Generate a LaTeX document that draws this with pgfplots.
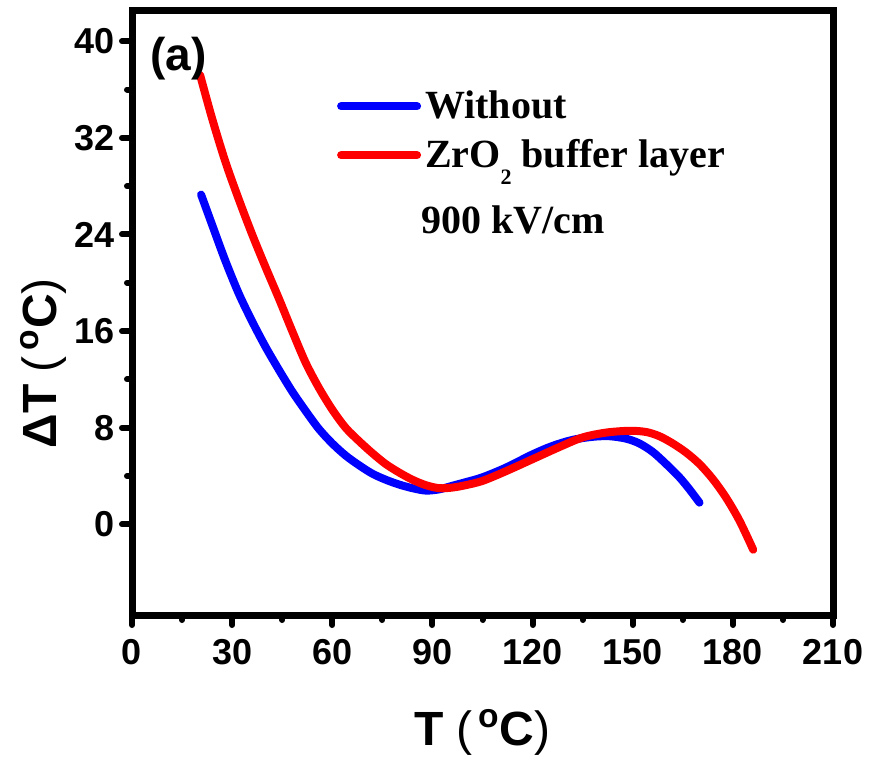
\documentclass[border=0pt]{standalone}
\usepackage{fontspec}
\setmainfont{Liberation Serif}
\setsansfont{Liberation Sans}
\usepackage{pgfplots}
\pgfplotsset{compat=1.18}
\begin{document}
\begin{tikzpicture}
\path[use as bounding box] (-66pt,-74.5pt) rectangle (369pt,307.5pt);
\begin{axis}[
  at={(0,0)}, anchor=south west,
  scale only axis, width=350.5pt, height=302pt,
  xmin=0, xmax=210, ymin=-7.5, ymax=42.5,
  xtick={0,30,...,210}, ytick={0,8,...,40},
  minor x tick num=1, minor y tick num=1,
  xtick pos=bottom, ytick pos=left,
  tick align=outside,
  axis line style={line width=3.5pt},
  major tick style={line width=3pt, line cap=round, black},
  minor tick style={line width=3pt, line cap=round, black},
  major tick length=5pt, minor tick length=2.5pt,
  tick label style={font=\sffamily\bfseries\fontsize{18}{18}\selectfont},
  xticklabel style={yshift=-3.5pt},
  /pgf/number format/assume math mode=true,
  xlabel={T\hspace{6pt}{\mdseries(}\hspace{3pt}\textsuperscript{o}C{\mdseries)}},
  ylabel={ΔT\hspace{6pt}{\mdseries(}\hspace{3pt}\textsuperscript{o}C{\mdseries)}},
  every axis x label/.style={at={(axis description cs:0.5,-0.194)}, anchor=center,
    font=\sffamily\bfseries\fontsize{24}{24}\selectfont},
  every axis y label/.style={at={(axis description cs:-0.127,0.417)}, anchor=center, rotate=90,
    font=\sffamily\bfseries\fontsize{24}{24}\selectfont},
  legend style={at={(axis description cs:0.292,0.875)}, anchor=north west, draw=none, fill=none,
    font=\rmfamily\bfseries\fontsize{20}{24}\selectfont, row sep=5pt, inner sep=0pt,
    /tikz/every even column/.append style={column sep=9pt}},
  legend cell align=left,
  legend image code/.code={\draw[#1, line width=4pt, line cap=round] (1pt,0pt) -- (39pt,0pt);},
]
\addplot[blue, line width=4pt, line cap=round, line join=round, smooth] coordinates {
(20.7,27.3) (24,24.8) (28,21.8) (32,19.1) (36,16.8) (40,14.7) (44,12.8) (48,11.0)
(52,9.4) (56,7.9) (60,6.7) (64,5.7) (68,4.9) (72,4.2) (76,3.7) (80,3.3) (84,3.0)
(88,2.8) (92,2.9) (96,3.2) (100,3.5) (105,3.9) (112,4.7) (120,5.8) (126,6.5) (132,7.0)
(138,7.25) (143,7.3) (148,7.1) (152,6.7) (156,6.0) (160,5.0) (164,3.9) (167,2.9) (170,1.8)
};
\addlegendentry{Without}
\addplot[red, line width=4pt, line cap=round, line join=round, smooth] coordinates {
(20.4,37.2) (24,33.6) (28,30.0) (32,26.9) (36,24.0) (40,21.3) (44,18.7) (48,16.0)
(52,13.4) (56,11.3) (60,9.5) (64,8.0) (68,6.9) (72,5.9) (76,5.0) (80,4.3) (84,3.7)
(88,3.25) (92,3.0) (96,3.05) (100,3.25) (105,3.6) (112,4.4) (120,5.4) (128,6.4)
(135,7.2) (142,7.6) (149,7.75) (154,7.65) (158,7.3) (162,6.7) (166,5.95) (170,5.0)
(174,3.75) (178,2.2) (182,0.3) (186.1,-2.1)
};
\addlegendentry{ZrO\raisebox{-8.5pt}{\fontsize{11}{11}\selectfont 2} buffer layer}
\node[anchor=base west, font=\sffamily\bfseries\fontsize{23}{23}\selectfont] at (axis description cs:0.016,0.901) {(a)};
\node[anchor=base west, font=\rmfamily\bfseries\fontsize{20}{24}\selectfont] at (axis description cs:0.4026,0.632) {900 kV/cm};
\end{axis}
\end{tikzpicture}
\end{document}
